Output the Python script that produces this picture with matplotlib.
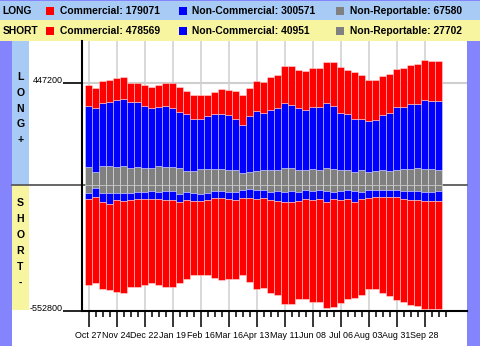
import matplotlib
matplotlib.use("Agg")
import matplotlib.pyplot as plt
from matplotlib.patches import Rectangle
import numpy as np

plt.rcParams['font.family'] = ['Liberation Sans', 'DejaVu Sans']

# weekly positions, long side
long_comm = [91100, 89300, 96800, 96800, 96800, 96800, 84900, 84900, 91100, 93700,
             98100, 98600, 110000, 108700, 101200, 108200, 105600, 95000, 98100, 110000,
             111300, 123200, 133300, 125800, 133300, 136400, 143900, 146500, 165400, 171600,
             168500, 171600, 174200, 174200, 181700, 191000, 205000, 194900, 208100, 193600,
             179100, 176000, 172900, 171600, 167200, 171600, 171600, 176000, 178600, 178600,
             179071]
long_noncomm = [269700, 280300, 277200, 281600, 293500, 293500, 290400, 286000, 274100, 262700,
                258300, 269700, 258300, 247700, 249500, 227500, 221300, 231900, 240700, 240700,
                240700, 223100, 211200, 245100, 264000, 252100, 264000, 272800, 284700, 278500,
                271500, 264000, 271500, 275900, 286000, 278500, 249500, 245100, 231900, 225700,
                224400, 223100, 240700, 256500, 275900, 274100, 286000, 281600, 302300, 297900,
                300571]
long_nonrep = [79200, 57200, 83600, 83600, 80500, 83600, 74800, 79200, 74800, 74800,
               83600, 79200, 79200, 74800, 61600, 61600, 70400, 70400, 70400, 70400,
               66000, 66000, 52800, 57200, 61600, 66000, 66000, 66000, 74800, 74800,
               66000, 66000, 70400, 66000, 74800, 70400, 66000, 66000, 57200, 66000,
               57200, 61600, 66000, 61600, 66000, 70400, 70400, 74800, 70400, 70400,
               67580]

# short side
short_comm = [377100, 377100, 381500, 378400, 403500, 404800, 384100, 387200, 375800, 370900,
              375800, 381500, 381500, 356400, 346300, 326900, 326900, 331300, 350700, 359500,
              352000, 346300, 338800, 369600, 394700, 396000, 407900, 414900, 450100, 450100,
              433800, 437400, 450100, 453200, 467700, 477800, 454500, 440000, 422400, 422400,
              399100, 403500, 422400, 435600, 453200, 455800, 462000, 465100, 477800, 475200,
              478569]
short_noncomm = [29000, 38300, 39600, 47100, 32100, 35200, 32100, 33400, 33400, 35200,
                 33400, 40900, 40900, 33900, 36500, 36500, 30800, 32100, 33400, 33400,
                 33400, 36500, 37800, 40900, 42200, 37800, 36500, 44000, 44000, 48400,
                 39600, 42200, 40900, 42200, 48400, 30800, 40900, 42200, 48400, 33400,
                 37800, 33400, 33400, 33400, 33400, 35200, 40900, 40900, 39600, 39600,
                 40951]
short_nonrep = [33900, 14500, 36500, 36500, 33900, 33900, 33900, 29500, 29500, 25100,
                29500, 25100, 25100, 39600, 29500, 33900, 39600, 33900, 25100, 25100,
                29500, 29500, 20700, 17600, 20700, 20700, 29500, 25100, 29500, 25100,
                29500, 20700, 25100, 20700, 25100, 29500, 25100, 20700, 25100, 29500,
                20700, 20700, 20700, 20700, 20700, 25100, 25100, 25100, 29500, 29500,
                27702]

date_labels = ['Oct 27', 'Nov 24', 'Dec 22', 'Jan 19', 'Feb 16', 'Mar 16', 'Apr 13',
               'May 11', 'Jun 08', 'Jul 06', 'Aug 03', 'Aug 31', 'Sep 28']
y_marks = [447200, -552800]

W, H = 480, 346
LONG_BG = '#a8cbf5'
SHORT_BG = '#f7f5a0'
STRIP = '#8484fc'
RED, BLUE, GRAY = '#ff0000', '#0000ff', '#808080'


def fx(px):
    return px / W


def fy(py):
    return 1 - py / H


def box(x0, y0, x1, y1, color, z=-1):
    fig.add_artist(Rectangle((fx(x0), fy(y1)), (x1 - x0) / W, (y1 - y0) / H,
                             transform=fig.transFigure, facecolor=color,
                             edgecolor='none', zorder=z))


fig = plt.figure(figsize=(W / 100, H / 100), dpi=100)
fig.patch.set_facecolor('white')

# frame: header rows, side strips, LONG / SHORT columns
box(0, 0, 480, 20, LONG_BG)
box(0, 20, 480, 41, SHORT_BG)
box(0, 0, 480, 1, STRIP)
box(0, 41, 12, 346, STRIP)
box(467, 41, 480, 346, STRIP)
box(12, 41, 29, 185, LONG_BG)
box(12, 185, 29, 310, SHORT_BG)

ax = fig.add_axes([fx(82), fy(310.7), (467 - 82) / W, (310.7 - 41) / H])
ax.set_facecolor('none')

x = np.arange(len(long_comm))
lnr = np.array(long_nonrep)
lnc = np.array(long_noncomm)
lc = np.array(long_comm)
snr = np.array(short_nonrep)
snc = np.array(short_noncomm)
sc = np.array(short_comm)

kw = dict(width=0.9, edgecolor=(1, 1, 1, 0.55), linewidth=0.5, zorder=2)
ax.bar(x, lnr, color=GRAY, **kw)
ax.bar(x, lnc, bottom=lnr, color=BLUE, **kw)
ax.bar(x, lc, bottom=lnr + lnc, color=RED, **kw)
ax.bar(x, -snr, color=GRAY, **kw)
ax.bar(x, -snc, bottom=-snr, color=BLUE, **kw)
ax.bar(x, -sc, bottom=-(snr + snc), color=RED, **kw)

ax.set_xlim(-0.93, 54.07)
ax.set_ylim(y_marks[1], 633300)

ax.axhline(y_marks[0], color='#cfcfcf', lw=1.5, zorder=0.6)
ax.axhline(0, xmin=(12 - 82) / 385, xmax=1, color='#5a5a5a', lw=1.3,
           zorder=0.7, clip_on=False)

ax.set_xticks(np.arange(0, 4 * len(date_labels), 4))
ax.set_xticklabels(date_labels)
ax.set_xticks(np.arange(len(x) + 1), minor=True)
ax.grid(axis='x', which='major', color='#d0d0d0', lw=1.1, zorder=0.5)
ax.set_axisbelow(True)
ax.tick_params(axis='x', which='major', length=11.5, width=1.1, pad=3.0,
               labelsize=6.4, colors='black')
ax.tick_params(axis='x', which='minor', length=4.3, width=1.1, colors='black')

ax.set_yticks(y_marks)
ax.tick_params(axis='y', length=13.7, width=1.2, labelleft=False)
for v in y_marks:
    ax.text(-0.05, v, str(v), transform=ax.get_yaxis_transform(),
            ha='right', va='baseline', fontsize=6.5)

for s in ['top', 'right']:
    ax.spines[s].set_visible(False)
for s in ['left', 'bottom']:
    ax.spines[s].set_linewidth(1.5)
    ax.spines[s].set_color('black')

# header legend rows
rows = [('LONG', 11, long_comm, long_noncomm, long_nonrep),
        ('SHORT', 31, short_comm, short_noncomm, short_nonrep)]
for name, yc, c, nc, nr in rows:
    fig.text(fx(2.5), fy(yc), name, ha='left', va='center',
             fontsize=7.4, weight='bold')
    items = [(46, RED, 'Commercial: %d' % c[-1]),
             (178.5, BLUE, 'Non-Commercial: %d' % nc[-1]),
             (336, GRAY, 'Non-Reportable: %d' % nr[-1])]
    for x0, col, label in items:
        box(x0, yc - 4, x0 + 8, yc + 4, col, z=2)
        fig.text(fx(x0 + 13.5), fy(yc), label, ha='left', va='center',
                 fontsize=7.4, weight='bold')

# vertical side captions
for i, ch in enumerate('LONG+'):
    fig.text(fx(20.3), fy(77 + 15.8 * i), ch, ha='center', va='center',
             fontsize=7.6, weight='bold')
for i, ch in enumerate('SHORT-'):
    fig.text(fx(20.3), fy(203 + 16 * i), ch, ha='center', va='center',
             fontsize=7.6, weight='bold')

fig.savefig('out.png', dpi=100)
